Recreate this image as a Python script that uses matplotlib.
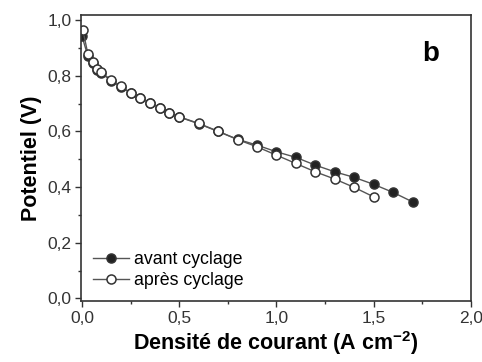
import matplotlib.pyplot as plt
from matplotlib.ticker import MultipleLocator, FuncFormatter

# courbes de polarisation avant / apres cyclage
x_avant = [0.0, 0.03, 0.055, 0.077, 0.1, 0.15, 0.2, 0.25, 0.3, 0.35, 0.4, 0.45, 0.5,
           0.6, 0.7, 0.8, 0.9, 1.0, 1.1, 1.2, 1.3, 1.4, 1.5, 1.6, 1.7]
y_avant = [0.943, 0.872, 0.845, 0.822, 0.81, 0.782, 0.761, 0.738, 0.72, 0.702, 0.685, 0.667, 0.652,
           0.628, 0.600, 0.572, 0.551, 0.527, 0.507, 0.479, 0.455, 0.435, 0.410, 0.381, 0.347]
x_apres = [0.005, 0.03, 0.055, 0.077, 0.1, 0.15, 0.2, 0.25, 0.3, 0.35, 0.4, 0.45, 0.5,
           0.6, 0.7, 0.8, 0.9, 1.0, 1.1, 1.2, 1.3, 1.4, 1.5]
y_apres = [0.964, 0.880, 0.850, 0.826, 0.814, 0.784, 0.763, 0.739, 0.721, 0.703, 0.686, 0.668, 0.653,
           0.629, 0.601, 0.571, 0.545, 0.515, 0.485, 0.455, 0.429, 0.399, 0.365]

plt.rcParams['font.family'] = ['Liberation Sans', 'DejaVu Sans']
plt.rcParams['mathtext.default'] = 'regular'

fig = plt.figure(figsize=(4.82, 3.62), dpi=100)
ax = fig.add_axes([0.168, 0.168, 0.809, 0.79])

c = "#333333"
ax.plot(x_avant, y_avant, color="#555555", lw=1.0, marker="o", ms=6.5,
        mfc="#222222", mec="#333333", mew=1.1, label="avant cyclage")
ax.plot(x_apres, y_apres, color="#555555", lw=1.0, marker="o", ms=6.5,
        mfc="white", mec="#333333", mew=1.1, label="après cyclage")

ax.set_xlim(-0.005, 2.0)
ax.set_ylim(-0.01, 1.018)
ax.xaxis.set_major_locator(MultipleLocator(0.5))
ax.xaxis.set_minor_locator(MultipleLocator(0.25))
ax.yaxis.set_major_locator(MultipleLocator(0.2))
ax.yaxis.set_minor_locator(MultipleLocator(0.1))
virgule = FuncFormatter(lambda v, p: ("%.1f" % v).replace(".", ","))
ax.xaxis.set_major_formatter(virgule)
ax.yaxis.set_major_formatter(virgule)
ax.tick_params(which="major", direction="out", length=4, width=1, color=c,
               labelsize=12.5, labelcolor="#333333", pad=3)
ax.tick_params(which="minor", direction="out", length=2.5, width=1, color=c)
for s in ax.spines.values():
    s.set_color(c)
    s.set_linewidth(1.2)

ax.set_xlabel("Densité de courant (A cm$^{-2}$)", fontsize=15.5, fontweight="bold", labelpad=2)
ax.set_ylabel("Potentiel (V)", fontsize=15.5, fontweight="bold", labelpad=4)
ax.text(0.875, 0.84, "b", transform=ax.transAxes, fontsize=20, fontweight="bold")

ax.legend(loc="lower left", bbox_to_anchor=(-0.01, -0.015), frameon=False, fontsize=12.8,
          handlelength=2.0, handletextpad=0.3, labelspacing=0.25)

fig.savefig("out.png")
